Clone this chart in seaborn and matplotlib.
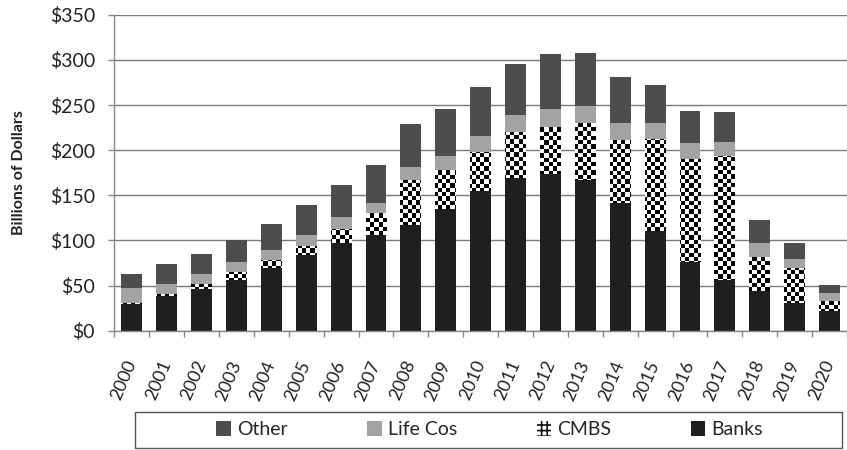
import numpy as np
import pandas as pd
import matplotlib.pyplot as plt
import seaborn as sns
from matplotlib.patches import Rectangle
from matplotlib.ticker import FuncFormatter, MultipleLocator

sns.set_theme(style='white')
plt.rcParams['font.family'] = ['Lato', 'DejaVu Sans']
plt.rcParams['hatch.linewidth'] = 1.2

# valores (bilhões de dólares)
years = [str(y) for y in range(2000, 2021)]
banks = [30, 38, 46, 56, 70, 84, 97, 106, 117, 135, 155, 169, 174, 167, 142, 111, 76, 56, 44, 31, 22]
cmbs = [1, 3, 6, 9, 8, 10, 16, 25, 50, 43, 43, 51, 52, 63, 69, 102, 114, 138, 38, 38, 11]
life_cos = [16, 11, 11, 11, 11, 12, 13, 11, 14, 16, 18, 19, 20, 19, 19, 17, 18, 15, 15, 11, 9]
other = [16, 22, 22, 25, 29, 33, 36, 42, 48, 52, 54, 57, 61, 59, 51, 42, 35, 33, 26, 17, 9]

df = pd.DataFrame({'Ano': years, 'Banks': banks, 'CMBS': cmbs,
                   'Life Cos': life_cos, 'Other': other})
df['base_cmbs'] = df['Banks']
df['base_life'] = df['Banks'] + df['CMBS']
df['base_other'] = df['base_life'] + df['Life Cos']

fig, ax = plt.subplots(figsize=(8.47, 4.5), dpi=100)
fig.subplots_adjust(left=0.135, right=1.0, top=0.967, bottom=0.265)

ax.set_axisbelow(True)
ax.yaxis.grid(True, color='#7a7a7a', linewidth=1.0)

bar_kw = dict(x='Ano', width=0.6, saturation=1, errorbar=None, linewidth=0, ax=ax)
sns.barplot(data=df, y='Banks', color='#1f1f1f', label='Banks', **bar_kw)
sns.barplot(data=df, y='CMBS', bottom=df['base_cmbs'].values, color='white',
            edgecolor='#111111', hatch='+++', label='CMBS', **bar_kw)
sns.barplot(data=df, y='Life Cos', bottom=df['base_life'].values, color='#a3a3a3',
            label='Life Cos', **bar_kw)
sns.barplot(data=df, y='Other', bottom=df['base_other'].values, color='#4d4d4d',
            label='Other', **bar_kw)

handles, labels = ax.get_legend_handles_labels()
if ax.legend_ is not None:
    ax.legend_.remove()

ax.set_ylim(0, 350)
ax.set_xlim(-0.5, 20.35)

# textura xadrez para CMBS (recortada nas barras)
cell_x, cell_y = 0.122, 4.8
nx, ny = int(21 / cell_x) + 1, int(350 / cell_y) + 1
checker = (np.add.outer(np.arange(ny), np.arange(nx)) % 2).astype(float)
for patch in ax.containers[1]:
    im = ax.imshow(checker, cmap='gray', vmin=0, vmax=1, extent=(-0.5, -0.5 + nx * cell_x, 0, ny * cell_y),
                   origin='lower', aspect='auto', interpolation='nearest', zorder=patch.get_zorder())
    im.set_clip_path(patch)
ax.set_ylim(0, 350)
ax.set_xlim(-0.5, 20.35)

# eixos
ax.yaxis.set_major_locator(MultipleLocator(50))
ax.yaxis.set_major_formatter(FuncFormatter(lambda v, p: f'${v:.0f}'))
ax.tick_params(axis='y', labelsize=14, colors='#222222', left=True, length=4,
               width=1, color='#888888', pad=10)
ax.set_ylabel('Billions of Dollars', fontsize=11.5, fontweight='bold', color='#222222')
ax.yaxis.set_label_coords(-0.12, 0.5)
ax.set_xlabel('')

ax.set_xticks(range(len(years)))
ax.set_xticklabels(years, rotation=67, ha='right', va='center',
                   rotation_mode='anchor', fontsize=13, color='#222222')
ax.tick_params(axis='x', which='major', length=0, pad=22)
ax.set_xticks([i - 0.5 for i in range(len(years) + 1)], minor=True)
ax.tick_params(axis='x', which='minor', bottom=True, length=4, width=1, color='#888888')

for s in ['top', 'right']:
    ax.spines[s].set_visible(False)
for s in ['left', 'bottom']:
    ax.spines[s].set_color('#888888')
    ax.spines[s].set_linewidth(1.0)

# legenda
order = [labels.index(l) for l in ['Other', 'Life Cos', 'CMBS', 'Banks']]
leg = fig.legend([handles[i] for i in order], [labels[i] for i in order],
                 loc='center', bbox_to_anchor=(0.578, 0.045), ncol=4,
                 frameon=False, fontsize=14, handlelength=0.75, handleheight=0.75,
                 handletextpad=0.3, columnspacing=4.1)
fig.patches.append(Rectangle((135 / 847, 2 / 450), 707 / 847, 36 / 450,
                             transform=fig.transFigure, fill=False,
                             edgecolor='#555555', linewidth=1.0))

plt.savefig('out.png', dpi=100)
